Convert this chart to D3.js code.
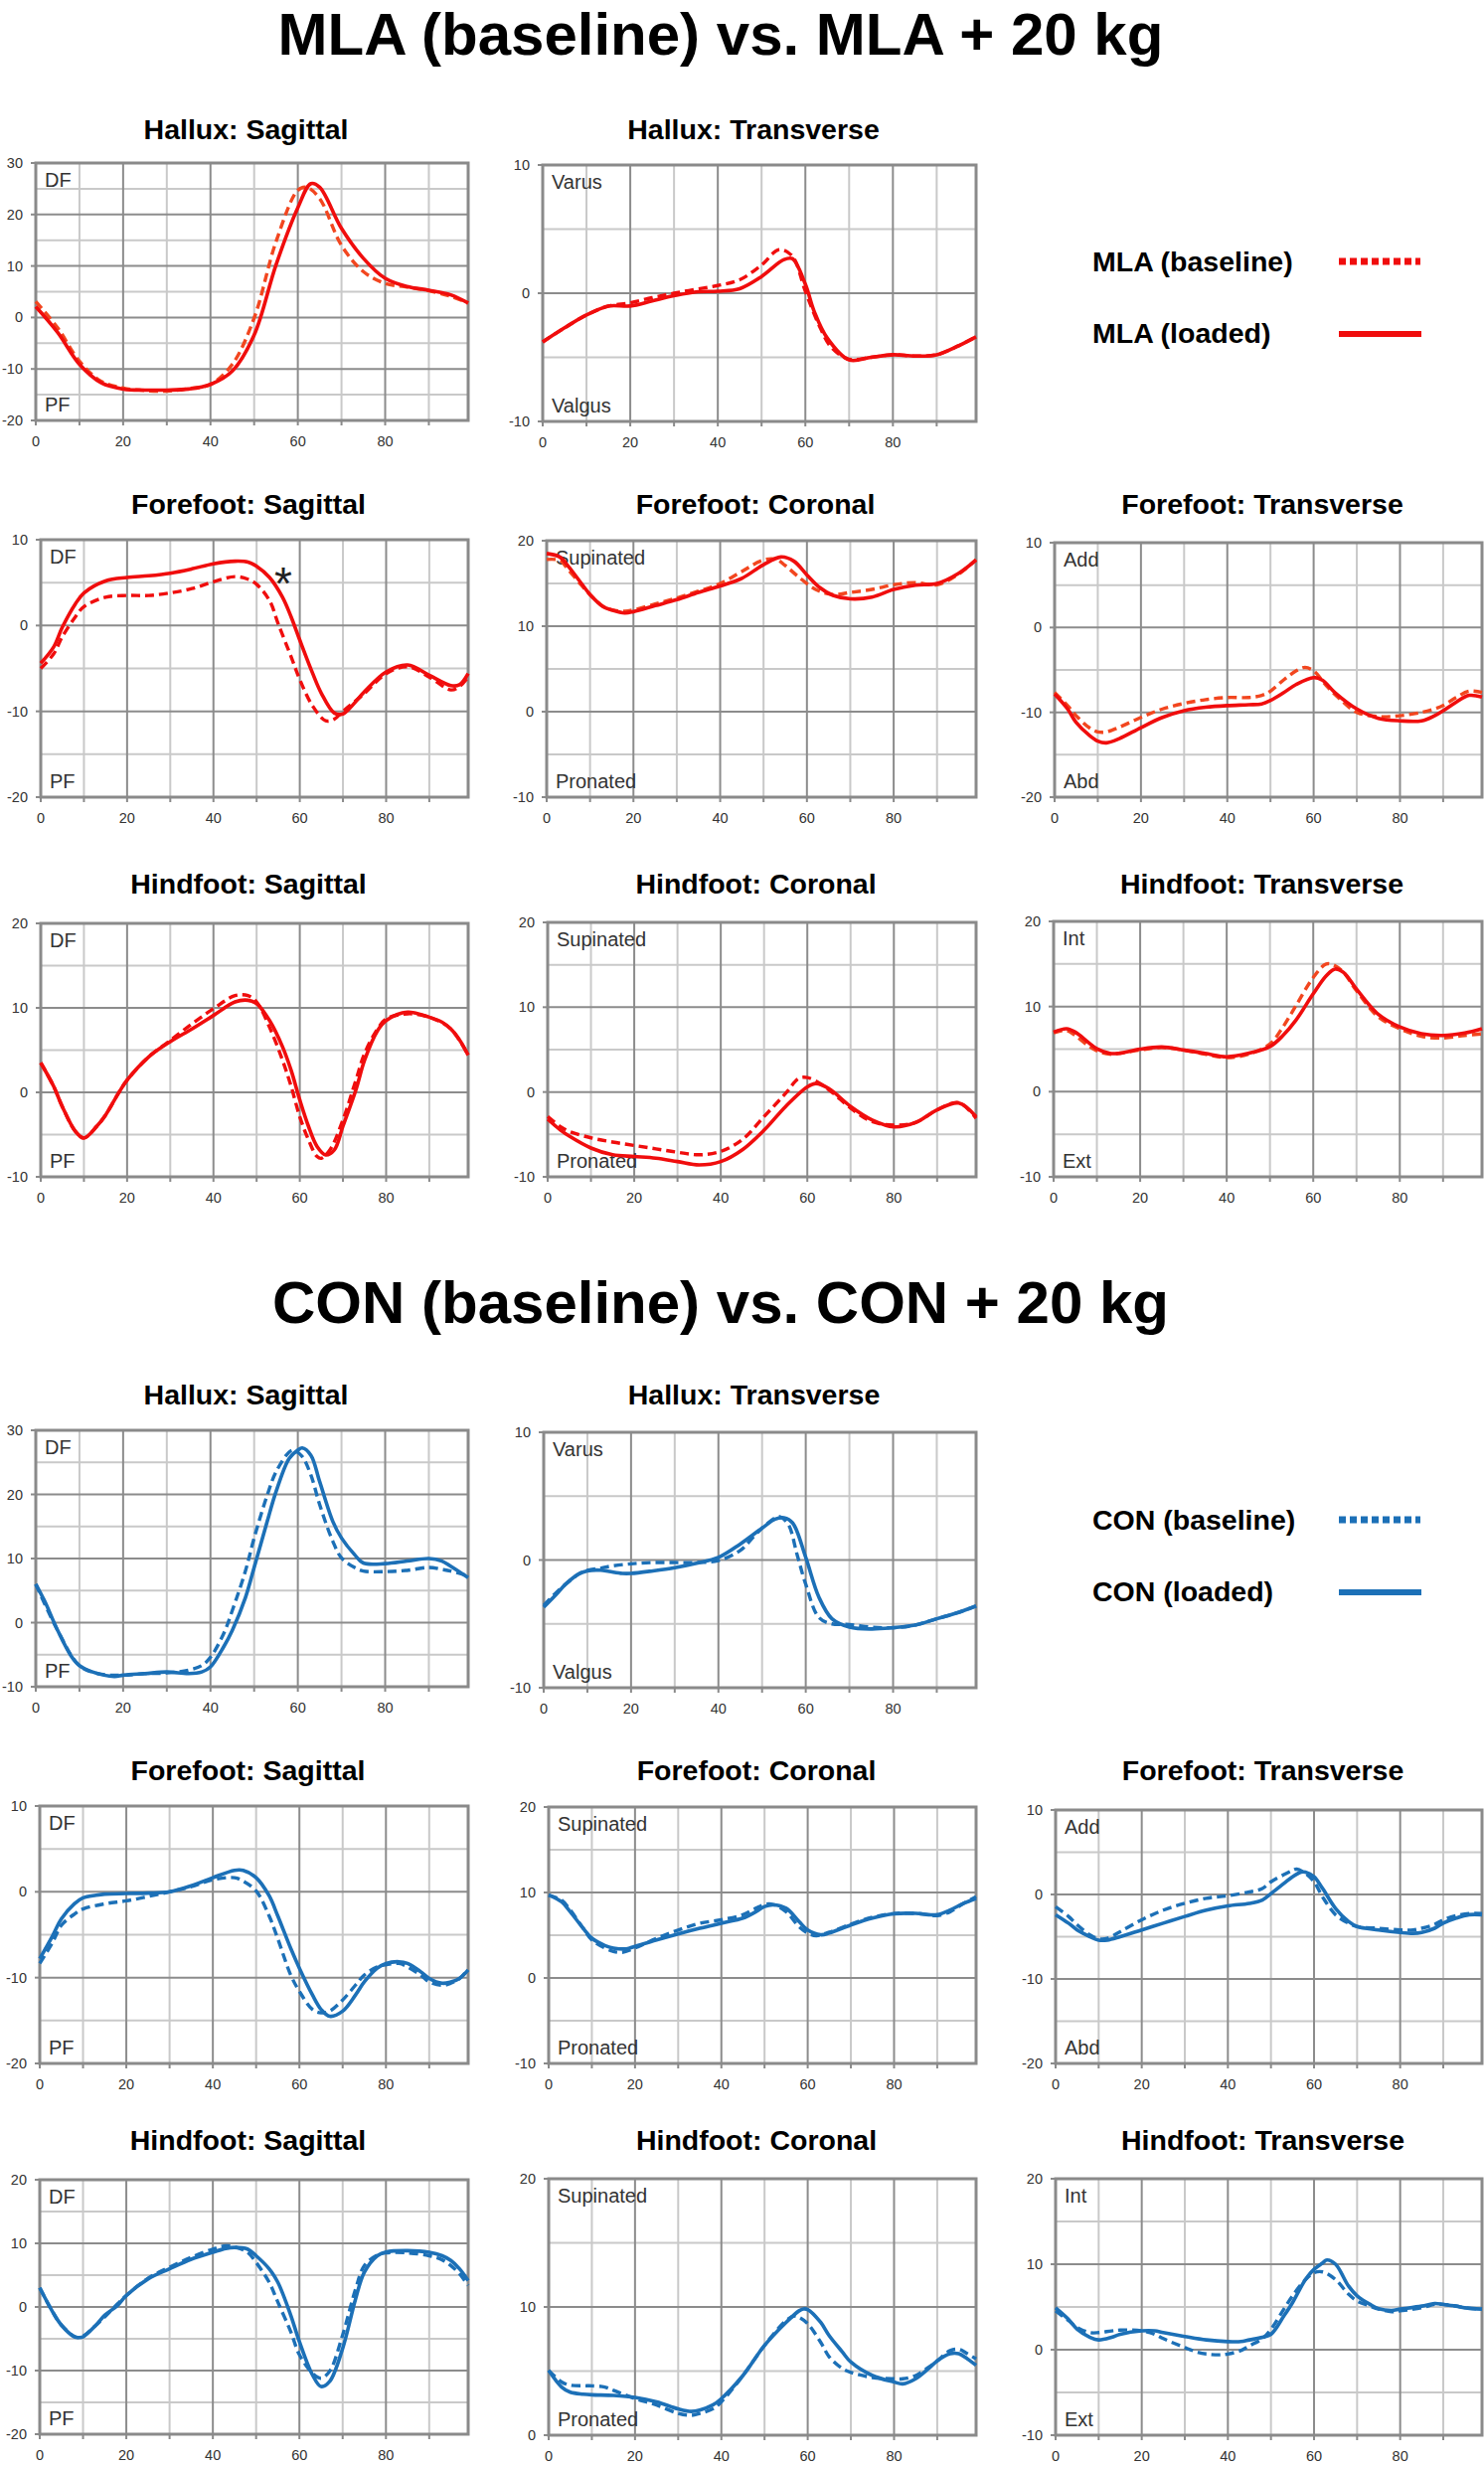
<!DOCTYPE html>
<html><head><meta charset="utf-8">
<script src="https://cdn.jsdelivr.net/npm/d3@7"></script>
<style>body{margin:0;background:#fff} svg{display:block} text{font-family:"Liberation Sans",Arial,Helvetica,sans-serif}</style>
</head><body><svg id="c" width="1493" height="2480"></svg>
<script>
// ---------- DATA ----------
const xTickLabels = [0, 20, 40, 60, 80];
const mainTitles = ["MLA (baseline) vs. MLA + 20 kg", "CON (baseline) vs. CON + 20 kg"];
const panelTitles = ["Hallux: Sagittal", "Hallux: Transverse", "Forefoot: Sagittal", "Forefoot: Coronal", "Forefoot: Transverse", "Hindfoot: Sagittal", "Hindfoot: Coronal", "Hindfoot: Transverse"];
const legendMLA = ["MLA (baseline)", "MLA (loaded)"];
const legendCON = ["CON (baseline)", "CON (loaded)"];

// MLA group
const mlaHalluxSagBase = [[0,3.1],[5,-2],[10,-8.5],[15,-12.4],[20,-13.7],[25,-14.2],[30,-14.3],[35,-13.8],[40,-13.0],[45,-9.1],[50,-0.1],[55,14.7],[60,24.7],[62,25.3],[65,23.1],[70,14.0],[75,8.9],[80,6.6],[85,5.9],[90,5.2],[95,4.1],[99,2.8]];
const mlaHalluxSagLoad = [[0,2.1],[5,-2.9],[10,-9.1],[15,-12.7],[20,-13.9],[25,-14.1],[30,-14.1],[35,-13.9],[40,-13.0],[45,-10.4],[50,-3.4],[55,10.2],[60,21.3],[63,26.0],[65,25.3],[70,17.3],[75,11.5],[80,7.6],[85,6.0],[90,5.3],[95,4.4],[99,2.8]];
const mlaHalluxTrvBase = [[0,-3.8],[5,-2.7],[10,-1.7],[15,-1.0],[20,-0.75],[25,-0.35],[30,0.0],[35,0.3],[40,0.6],[45,1.05],[50,2.2],[54,3.4],[57,2.9],[60,0.15],[63,-2.4],[66,-4.25],[70,-5.15],[75,-5.0],[80,-4.8],[85,-4.9],[90,-4.8],[95,-4.1],[99,-3.4]];
const mlaHalluxTrvLoad = [[0,-3.8],[5,-2.7],[10,-1.7],[15,-1.0],[20,-1.0],[25,-0.6],[30,-0.2],[35,0.1],[40,0.15],[45,0.35],[50,1.3],[55,2.6],[57,2.7],[60,0.7],[62,-1.4],[65,-3.5],[70,-5.2],[75,-5.0],[80,-4.8],[85,-4.9],[90,-4.8],[95,-4.1],[99,-3.4]];
const mlaForeSagBase = [[0,-5.0],[3,-3.3],[5,-1.3],[8,1.0],[10,2.2],[15,3.3],[20,3.5],[25,3.5],[30,3.8],[35,4.3],[40,5.1],[45,5.7],[48,5.4],[50,4.8],[53,2.9],[55,0.2],[58,-3.65],[60,-6.3],[63,-9.4],[66,-11.1],[68,-10.9],[70,-10.0],[75,-7.9],[80,-5.6],[85,-4.8],[90,-6.0],[95,-7.5],[97,-7.1],[99,-6.0]];
const mlaForeSagLoad = [[0,-4.4],[3,-2.5],[5,-0.2],[8,2.5],[10,3.8],[15,5.2],[20,5.6],[25,5.8],[30,6.1],[35,6.6],[40,7.2],[45,7.5],[48,7.4],[50,6.9],[53,5.6],[56,3.3],[58,1.0],[60,-1.7],[63,-5.6],[65,-7.9],[68,-10.2],[70,-10.3],[72,-9.4],[75,-7.7],[80,-5.4],[85,-4.6],[90,-5.8],[95,-7.0],[97,-6.9],[99,-5.6]];
const mlaForeCorBase = [[0,17.8],[3,17.7],[5,16.6],[8,14.8],[10,13.7],[13,12.3],[15,11.9],[18,11.75],[20,11.9],[25,12.6],[30,13.3],[35,14.1],[40,15.0],[45,16.4],[50,17.75],[53,17.8],[55,17.1],[58,15.8],[62,14.3],[66,13.7],[70,13.95],[75,14.3],[80,14.85],[85,15.1],[90,14.85],[95,16.1],[99,17.8]];
const mlaForeCorLoad = [[0,18.5],[3,18.1],[5,17.0],[8,15.0],[10,13.7],[13,12.3],[15,11.9],[18,11.55],[20,11.7],[25,12.4],[30,13.1],[35,13.95],[40,14.7],[45,15.6],[50,17.2],[54,18.1],[57,17.6],[60,16.0],[63,14.5],[66,13.6],[70,13.2],[75,13.4],[80,14.3],[85,14.8],[90,15.0],[95,16.2],[99,17.75]];
const mlaForeTrvBase = [[0,-7.65],[3,-9.2],[5,-10.4],[8,-11.8],[10,-12.3],[12,-12.3],[15,-11.75],[20,-10.6],[25,-9.6],[30,-8.95],[35,-8.5],[40,-8.25],[45,-8.25],[48,-8.0],[50,-7.5],[53,-6.2],[56,-5.1],[58,-4.7],[60,-5.1],[63,-6.9],[66,-8.4],[70,-10.0],[75,-10.5],[80,-10.4],[85,-10.0],[88,-9.6],[90,-9.2],[93,-8.25],[96,-7.5],[99,-7.65]];
const mlaForeTrvLoad = [[0,-7.85],[3,-9.6],[5,-11.2],[8,-12.7],[10,-13.4],[12,-13.6],[15,-13.1],[20,-11.8],[25,-10.6],[30,-9.8],[35,-9.4],[40,-9.2],[45,-9.1],[48,-9.0],[50,-8.6],[53,-7.7],[56,-6.7],[60,-5.9],[62,-6.2],[65,-7.7],[70,-9.6],[75,-10.7],[80,-11.0],[85,-11.0],[88,-10.4],[90,-9.8],[93,-8.8],[96,-8.0],[99,-8.2]];
const mlaHindSagBase = [[0,3.5],[3,0.7],[5,-1.7],[8,-4.6],[10,-5.4],[13,-4.0],[15,-2.7],[18,-0.1],[20,1.45],[25,4.2],[30,6.15],[35,8.1],[40,9.9],[45,11.45],[48,11.45],[50,10.7],[53,7.7],[56,3.8],[58,0.7],[60,-2.9],[62,-5.6],[64,-7.6],[65,-7.8],[67,-6.8],[70,-3.25],[73,1.45],[75,4.6],[78,7.5],[80,8.7],[85,9.3],[90,8.9],[95,7.5],[99,4.4]];
const mlaHindSagLoad = [[0,3.5],[3,0.7],[5,-1.7],[8,-4.6],[10,-5.4],[13,-4.0],[15,-2.7],[18,-0.1],[20,1.45],[25,4.2],[30,6.0],[35,7.5],[40,9.1],[45,10.7],[48,10.9],[50,10.5],[53,8.5],[56,5.4],[58,2.6],[60,-0.9],[62,-4.0],[64,-6.4],[66,-7.4],[68,-6.8],[70,-4.0],[73,0.3],[75,3.8],[78,7.3],[80,8.5],[85,9.5],[90,8.9],[93,8.3],[95,7.5],[97,6.2],[99,4.4]];
const mlaHindCorBase = [[0,-2.9],[3,-4.1],[5,-4.65],[10,-5.4],[15,-5.9],[20,-6.3],[25,-6.7],[30,-7.1],[35,-7.4],[40,-7.0],[45,-5.6],[50,-2.9],[55,-0.15],[58,1.6],[60,1.7],[63,1.0],[66,-0.15],[70,-1.9],[75,-3.5],[80,-3.9],[85,-3.6],[90,-2.1],[95,-1.25],[99,-3.1]];
const mlaHindCorLoad = [[0,-3.2],[3,-4.5],[5,-5.2],[10,-6.6],[15,-7.4],[20,-7.6],[25,-7.8],[30,-8.2],[35,-8.6],[40,-8.2],[45,-6.8],[50,-4.5],[55,-1.7],[60,0.6],[62,1.0],[65,0.4],[70,-1.7],[75,-3.3],[80,-4.1],[85,-3.6],[90,-2.1],[95,-1.3],[99,-2.9]];
const mlaHindTrvBase = [[0,6.9],[3,7.2],[5,6.6],[8,5.4],[10,4.8],[13,4.4],[15,4.5],[20,4.9],[25,5.2],[30,4.9],[35,4.4],[40,4.0],[45,4.4],[50,5.6],[53,7.6],[56,10.1],[60,13.4],[63,15.0],[65,14.8],[67,14.0],[70,11.85],[75,8.8],[80,7.4],[85,6.5],[90,6.3],[95,6.6],[99,6.8]];
const mlaHindTrvLoad = [[0,7.0],[3,7.4],[5,7.0],[8,5.8],[10,5.05],[13,4.5],[15,4.5],[20,5.0],[25,5.25],[30,4.9],[35,4.5],[40,4.1],[45,4.5],[50,5.3],[53,6.6],[56,8.4],[60,11.5],[63,13.6],[65,14.4],[67,14.0],[70,12.05],[75,9.1],[80,7.6],[85,6.8],[90,6.6],[95,6.9],[99,7.4]];

// CON group
const conHalluxSagBase = [[0,6.0],[5,-1.2],[10,-6.7],[15,-8.05],[20,-8.2],[25,-7.95],[30,-7.85],[35,-7.4],[38,-6.7],[40,-5.4],[43,-1.75],[45,1.9],[48,8.05],[50,13.2],[53,19.9],[55,23.5],[58,26.6],[59,26.9],[61,25.9],[63,23.0],[65,18.4],[68,12.7],[70,10.1],[73,8.6],[75,8.05],[80,7.95],[85,8.15],[90,8.6],[93,8.3],[95,8.05],[99,7.3]];
const conHalluxSagLoad = [[0,6.0],[2,3.4],[5,-1.2],[8,-5.1],[10,-6.7],[13,-7.7],[18,-8.4],[20,-8.2],[25,-7.95],[30,-7.7],[35,-7.95],[38,-7.7],[40,-6.9],[43,-3.8],[45,-1.2],[48,3.9],[50,8.6],[53,15.8],[55,20.4],[58,25.6],[60,26.9],[61,27.25],[63,26.1],[65,22.0],[68,15.8],[70,13.2],[73,10.6],[75,9.3],[80,9.2],[85,9.6],[90,10.0],[93,9.6],[95,8.8],[99,7.0]];
const conHalluxTrvBase = [[0,-3.55],[3,-2.5],[5,-1.9],[8,-1.1],[10,-0.8],[13,-0.65],[15,-0.5],[20,-0.3],[25,-0.2],[30,-0.2],[35,-0.2],[40,-0.05],[45,0.75],[48,1.8],[50,2.5],[53,3.3],[54,3.4],[56,2.8],[58,0.45],[60,-1.9],[63,-4.5],[66,-5.0],[70,-5.05],[75,-5.25],[80,-5.3],[85,-5.1],[90,-4.6],[95,-4.1],[99,-3.6]];
const conHalluxTrvLoad = [[0,-3.7],[3,-2.65],[5,-1.9],[8,-1.1],[10,-0.85],[13,-0.8],[15,-0.9],[18,-1.05],[20,-1.05],[25,-0.85],[30,-0.6],[35,-0.25],[40,0.2],[45,1.25],[50,2.5],[53,3.2],[55,3.3],[57,2.9],[60,0.2],[63,-2.9],[66,-4.6],[70,-5.25],[75,-5.4],[80,-5.3],[85,-5.1],[90,-4.6],[95,-4.1],[99,-3.6]];
const conForeSagBase = [[0,-8.35],[3,-5.85],[5,-3.9],[8,-2.6],[10,-2.0],[15,-1.4],[20,-1.05],[25,-0.55],[30,0.0],[35,0.6],[40,1.4],[45,1.65],[47,1.25],[50,0.1],[53,-2.8],[55,-5.45],[58,-9.7],[60,-11.6],[63,-13.7],[65,-14.1],[67,-13.9],[70,-12.6],[73,-10.85],[75,-9.7],[78,-8.75],[80,-8.5],[83,-8.35],[85,-8.75],[88,-9.7],[90,-10.5],[93,-10.9],[95,-10.65],[97,-10.1],[99,-9.0]];
const conForeSagLoad = [[0,-7.8],[3,-5.1],[5,-3.15],[8,-1.4],[10,-0.7],[13,-0.4],[15,-0.27],[20,-0.2],[25,-0.15],[30,0.0],[35,0.7],[40,1.65],[45,2.5],[47,2.5],[50,1.65],[53,-0.45],[55,-2.8],[58,-6.6],[60,-8.9],[63,-12.0],[65,-13.7],[67,-14.5],[70,-13.9],[73,-12.0],[75,-10.5],[78,-8.9],[80,-8.35],[83,-8.15],[85,-8.35],[88,-9.3],[90,-10.1],[93,-10.65],[95,-10.5],[97,-10.1],[99,-9.1]];
const conForeCorBase = [[0,9.7],[3,9.1],[5,7.95],[8,5.8],[10,4.45],[13,3.5],[15,3.1],[17,3.0],[20,3.5],[25,4.65],[30,5.6],[35,6.4],[40,6.8],[45,7.4],[48,8.15],[50,8.6],[52,8.6],[55,7.75],[58,6.0],[60,5.25],[62,4.95],[65,5.35],[70,6.3],[75,7.1],[80,7.55],[85,7.55],[88,7.4],[90,7.3],[93,7.75],[96,8.7],[99,9.5]];
const conForeCorLoad = [[0,9.7],[3,8.9],[5,7.75],[8,5.8],[10,4.65],[13,3.8],[15,3.5],[18,3.4],[20,3.7],[25,4.45],[30,5.15],[35,5.8],[40,6.4],[45,7.0],[48,7.75],[50,8.35],[52,8.55],[55,8.15],[58,6.6],[60,5.6],[63,5.05],[65,5.25],[70,6.2],[75,7.0],[80,7.5],[85,7.55],[88,7.4],[90,7.4],[93,7.95],[96,8.7],[99,9.3]];
const conForeTrvBase = [[0,-1.45],[3,-2.6],[5,-3.6],[8,-4.8],[10,-5.25],[12,-5.2],[15,-4.4],[20,-3.0],[25,-1.85],[30,-1.05],[35,-0.45],[40,-0.15],[45,0.3],[48,0.7],[50,1.5],[53,2.35],[55,2.85],[56,3.0],[58,2.5],[60,1.5],[62,-0.3],[65,-2.4],[68,-3.4],[70,-3.8],[75,-4.0],[80,-4.2],[83,-4.2],[85,-4.0],[88,-3.55],[90,-3.0],[93,-2.5],[96,-2.25],[99,-2.25]];
const conForeTrvLoad = [[0,-2.4],[3,-3.4],[5,-4.2],[8,-5.0],[10,-5.4],[12,-5.4],[15,-5.0],[20,-4.2],[25,-3.4],[30,-2.6],[35,-1.85],[40,-1.35],[45,-1.05],[48,-0.65],[50,0.1],[53,1.3],[55,2.1],[57,2.65],[58,2.65],[60,2.1],[62,0.7],[65,-1.65],[68,-3.2],[70,-3.8],[75,-4.2],[80,-4.5],[83,-4.6],[85,-4.5],[88,-4.0],[90,-3.4],[93,-2.8],[96,-2.4],[99,-2.4]];
const conHindSagBase = [[0,3.0],[3,-0.8],[5,-2.85],[9,-4.8],[13,-2.85],[18,0.5],[20,1.8],[25,4.5],[30,6.25],[35,7.8],[40,9.1],[43,9.6],[45,9.45],[48,8.6],[50,7.0],[53,3.9],[55,0.8],[58,-3.9],[60,-7.5],[63,-10.4],[65,-11.2],[67,-10.1],[70,-4.4],[73,2.85],[75,6.5],[78,8.15],[80,8.5],[85,8.5],[90,8.05],[93,7.4],[95,6.5],[97,5.2],[99,3.4]];
const conHindSagLoad = [[0,3.0],[3,-0.8],[5,-2.85],[8,-4.7],[9,-4.8],[10,-4.7],[13,-2.85],[15,-1.3],[18,0.25],[20,1.8],[25,4.4],[30,6.0],[35,7.5],[40,8.6],[43,9.2],[45,9.35],[48,9.1],[50,8.05],[53,6.0],[55,3.9],[58,-1.3],[60,-5.45],[63,-10.65],[65,-12.5],[67,-11.7],[70,-6.5],[73,1.3],[75,5.45],[78,8.05],[80,8.65],[85,8.85],[90,8.6],[93,8.05],[95,7.3],[97,6.0],[99,4.15]];
const conHindCorBase = [[0,5.05],[3,4.15],[5,3.9],[8,3.85],[10,3.85],[13,3.75],[15,3.5],[20,2.85],[25,2.35],[30,1.7],[33,1.55],[35,1.7],[38,2.05],[40,2.6],[45,4.65],[50,7.0],[55,8.95],[57,9.3],[58,9.2],[60,8.7],[63,7.25],[65,6.1],[68,5.2],[70,4.9],[75,4.5],[80,4.4],[82,4.4],[85,4.65],[88,5.3],[90,5.8],[93,6.6],[95,6.7],[97,6.35],[99,5.95]];
const conHindCorLoad = [[0,5.05],[3,3.75],[5,3.35],[8,3.2],[10,3.15],[15,3.1],[20,2.95],[25,2.6],[30,2.05],[33,1.85],[35,1.95],[38,2.35],[40,2.85],[45,4.65],[50,7.0],[55,8.8],[58,9.7],[59,9.85],[60,9.8],[63,8.8],[65,7.75],[68,6.5],[70,5.7],[75,4.65],[80,4.15],[82,4.0],[85,4.4],[88,5.2],[90,5.8],[93,6.35],[95,6.35],[97,5.95],[99,5.45]];
const conHindTrvBase = [[0,4.55],[3,3.4],[5,2.6],[8,2.0],[10,2.0],[13,2.2],[15,2.3],[20,2.2],[23,1.8],[25,1.3],[30,0.25],[33,-0.3],[35,-0.5],[38,-0.6],[40,-0.5],[43,-0.1],[45,0.45],[48,1.3],[50,2.4],[53,4.75],[55,6.3],[58,8.2],[60,9.0],[62,9.1],[65,8.2],[68,6.5],[70,5.7],[73,5.1],[75,4.75],[78,4.45],[80,4.55],[85,4.9],[88,5.3],[90,5.3],[93,5.1],[95,4.9],[99,4.75]];
const conHindTrvLoad = [[0,4.9],[3,3.55],[5,2.4],[8,1.45],[10,1.15],[13,1.45],[15,1.8],[20,2.2],[23,2.2],[25,2.0],[30,1.55],[35,1.15],[40,0.95],[43,0.95],[45,1.15],[48,1.45],[50,1.8],[53,3.95],[55,5.5],[58,8.2],[60,9.4],[62,10.15],[63,10.5],[65,10.0],[68,7.45],[70,6.3],[73,5.3],[75,4.8],[78,4.6],[80,4.75],[85,5.1],[88,5.4],[90,5.3],[93,5.1],[95,4.9],[99,4.75]];

// ---------- STYLE / LAYOUT ----------
const RED = "#f00d0d", ORANGE = "#f2461f", BLUE = "#1c70b7";
const svg = d3.select("#c");

const panels = [
  {t:0, L:36, R:471, T:164, B:423, ty:140, dom:[-20,30], lab:["DF","PF"], base:mlaHalluxSagBase, load:mlaHalluxSagLoad, bc:ORANGE, lc:RED},
  {t:1, L:546, R:982, T:166, B:424, ty:140, dom:[-10,10], lab:["Varus","Valgus"], base:mlaHalluxTrvBase, load:mlaHalluxTrvLoad, bc:RED, lc:RED},
  {t:2, L:41, R:471, T:543, B:802, ty:517, dom:[-20,10], lab:["DF","PF"], base:mlaForeSagBase, load:mlaForeSagLoad, bc:RED, lc:RED, star:true},
  {t:3, L:550, R:982, T:544, B:802, ty:517, dom:[-10,20], lab:["Supinated","Pronated"], base:mlaForeCorBase, load:mlaForeCorLoad, bc:ORANGE, lc:RED},
  {t:4, L:1061, R:1491, T:546, B:802, ty:517, dom:[-20,10], lab:["Add","Abd"], base:mlaForeTrvBase, load:mlaForeTrvLoad, bc:ORANGE, lc:RED},
  {t:5, L:41, R:471, T:929, B:1184, ty:899, dom:[-10,20], lab:["DF","PF"], base:mlaHindSagBase, load:mlaHindSagLoad, bc:RED, lc:RED},
  {t:6, L:551, R:982, T:928, B:1184, ty:899, dom:[-10,20], lab:["Supinated","Pronated"], base:mlaHindCorBase, load:mlaHindCorLoad, bc:RED, lc:RED},
  {t:7, L:1060, R:1491, T:927, B:1184, ty:899, dom:[-10,20], lab:["Int","Ext"], base:mlaHindTrvBase, load:mlaHindTrvLoad, bc:ORANGE, lc:RED},
  {t:0, L:36, R:471, T:1439, B:1697, ty:1413, dom:[-10,30], lab:["DF","PF"], base:conHalluxSagBase, load:conHalluxSagLoad, bc:BLUE, lc:BLUE},
  {t:1, L:547, R:982, T:1441, B:1698, ty:1413, dom:[-10,10], lab:["Varus","Valgus"], base:conHalluxTrvBase, load:conHalluxTrvLoad, bc:BLUE, lc:BLUE},
  {t:2, L:40, R:471, T:1817, B:2076, ty:1791, dom:[-20,10], lab:["DF","PF"], base:conForeSagBase, load:conForeSagLoad, bc:BLUE, lc:BLUE},
  {t:3, L:552, R:982, T:1818, B:2076, ty:1791, dom:[-10,20], lab:["Supinated","Pronated"], base:conForeCorBase, load:conForeCorLoad, bc:BLUE, lc:BLUE},
  {t:4, L:1062, R:1491, T:1821, B:2076, ty:1791, dom:[-20,10], lab:["Add","Abd"], base:conForeTrvBase, load:conForeTrvLoad, bc:BLUE, lc:BLUE},
  {t:5, L:40, R:471, T:2193, B:2449, ty:2163, dom:[-20,20], lab:["DF","PF"], base:conHindSagBase, load:conHindSagLoad, bc:BLUE, lc:BLUE},
  {t:6, L:552, R:982, T:2192, B:2450, ty:2163, dom:[0,20], lab:["Supinated","Pronated"], base:conHindCorBase, load:conHindCorLoad, bc:BLUE, lc:BLUE},
  {t:7, L:1062, R:1491, T:2192, B:2450, ty:2163, dom:[-10,20], lab:["Int","Ext"], base:conHindTrvBase, load:conHindTrvLoad, bc:BLUE, lc:BLUE}
];

// main titles
svg.append("text").attr("x", 725).attr("y", 55).attr("text-anchor","middle")
  .attr("font-size", 60).attr("font-weight","bold").text(mainTitles[0]);
svg.append("text").attr("x", 725).attr("y", 1331).attr("text-anchor","middle")
  .attr("font-size", 60).attr("font-weight","bold").text(mainTitles[1]);

panels.forEach(p => {
  const g = svg.append("g");
  const x = d3.scaleLinear().domain([0,99]).range([p.L, p.R]);
  const y = d3.scaleLinear().domain(p.dom).range([p.B, p.T]);
  const yv = d3.range(p.dom[0], p.dom[1] + 0.001, 5);
  const xv = d3.range(10, 91, 10);
  // minor grid
  g.selectAll(".hmin").data(yv.filter(v => v % 10 !== 0)).join("line")
    .attr("x1", p.L).attr("x2", p.R).attr("y1", d => y(d)).attr("y2", d => y(d))
    .attr("stroke", "#c9c9c9").attr("stroke-width", 2);
  g.selectAll(".vmin").data(xv.filter(v => v % 20 !== 0)).join("line")
    .attr("y1", p.T).attr("y2", p.B).attr("x1", d => x(d)).attr("x2", d => x(d))
    .attr("stroke", "#c9c9c9").attr("stroke-width", 2);
  // major grid
  g.selectAll(".hmaj").data(yv.filter(v => v % 10 === 0)).join("line")
    .attr("x1", p.L).attr("x2", p.R).attr("y1", d => y(d)).attr("y2", d => y(d))
    .attr("stroke", "#8c8c8c").attr("stroke-width", 2);
  g.selectAll(".vmaj").data(xv.filter(v => v % 20 === 0)).join("line")
    .attr("y1", p.T).attr("y2", p.B).attr("x1", d => x(d)).attr("x2", d => x(d))
    .attr("stroke", "#8c8c8c").attr("stroke-width", 2);
  // frame
  g.append("rect").attr("x", p.L).attr("y", p.T).attr("width", p.R - p.L).attr("height", p.B - p.T)
    .attr("fill", "none").attr("stroke", "#8a8a8a").attr("stroke-width", 3);
  // x axis ticks
  g.selectAll(".xt").data(d3.range(0, 91, 10)).join("line")
    .attr("x1", d => x(d)).attr("x2", d => x(d)).attr("y1", p.B).attr("y2", p.B + 5)
    .attr("stroke", "#8a8a8a").attr("stroke-width", 2);
  g.selectAll(".xl").data(xTickLabels).join("text")
    .attr("x", d => x(d)).attr("y", p.B + 26).attr("text-anchor","middle")
    .attr("font-size", 14.5).attr("fill", "#333").text(d => d);
  // y axis ticks
  const ymaj = yv.filter(v => v % 10 === 0);
  g.selectAll(".yt").data(ymaj).join("line")
    .attr("x1", p.L - 5).attr("x2", p.L).attr("y1", d => y(d)).attr("y2", d => y(d))
    .attr("stroke", "#8a8a8a").attr("stroke-width", 2);
  g.selectAll(".yl").data(ymaj).join("text")
    .attr("x", p.L - 13).attr("y", d => y(d) + 5).attr("text-anchor","end")
    .attr("font-size", 14.5).attr("fill", "#333").text(d => d);
  // corner labels
  g.append("text").attr("x", p.L + 9).attr("y", p.T + 24).attr("font-size", 20).attr("fill","#333").text(p.lab[0]);
  g.append("text").attr("x", p.L + 9).attr("y", p.B - 9).attr("font-size", 20).attr("fill","#333").text(p.lab[1]);
  // title
  g.append("text").attr("x", (p.L + p.R) / 2 - 6).attr("y", p.ty).attr("text-anchor","middle")
    .attr("font-size", 28.5).attr("font-weight","bold").text(panelTitles[p.t]);
  // lines
  const line = d3.line().x(d => x(d[0])).y(d => y(d[1])).curve(d3.curveCatmullRom.alpha(0.5));
  g.append("path").attr("d", line(p.base)).attr("fill","none").attr("stroke", p.bc)
    .attr("stroke-width", 3.4).attr("stroke-dasharray", "9,5");
  g.append("path").attr("d", line(p.load)).attr("fill","none").attr("stroke", p.lc)
    .attr("stroke-width", 3.6);
  if (p.star) {
    g.append("text").attr("x", 285).attr("y", 603).attr("text-anchor","middle")
      .attr("font-size", 46).attr("fill","#222").text("*");
  }
});

// legends
function legend(labels, color, y1, y2) {
  svg.append("text").attr("x", 1099).attr("y", y1 + 10).attr("font-size", 28.5).attr("font-weight","bold").text(labels[0]);
  svg.append("text").attr("x", 1099).attr("y", y2 + 9).attr("font-size", 28.5).attr("font-weight","bold").text(labels[1]);
  svg.append("line").attr("x1", 1347).attr("x2", 1429).attr("y1", y1).attr("y2", y1)
    .attr("stroke", color).attr("stroke-width", 7).attr("stroke-dasharray", "7,4");
  svg.append("line").attr("x1", 1347).attr("x2", 1430).attr("y1", y2).attr("y2", y2)
    .attr("stroke", color).attr("stroke-width", 6);
}
legend(legendMLA, RED, 263, 336);
legend(legendCON, BLUE, 1529, 1602);
</script></body></html>
